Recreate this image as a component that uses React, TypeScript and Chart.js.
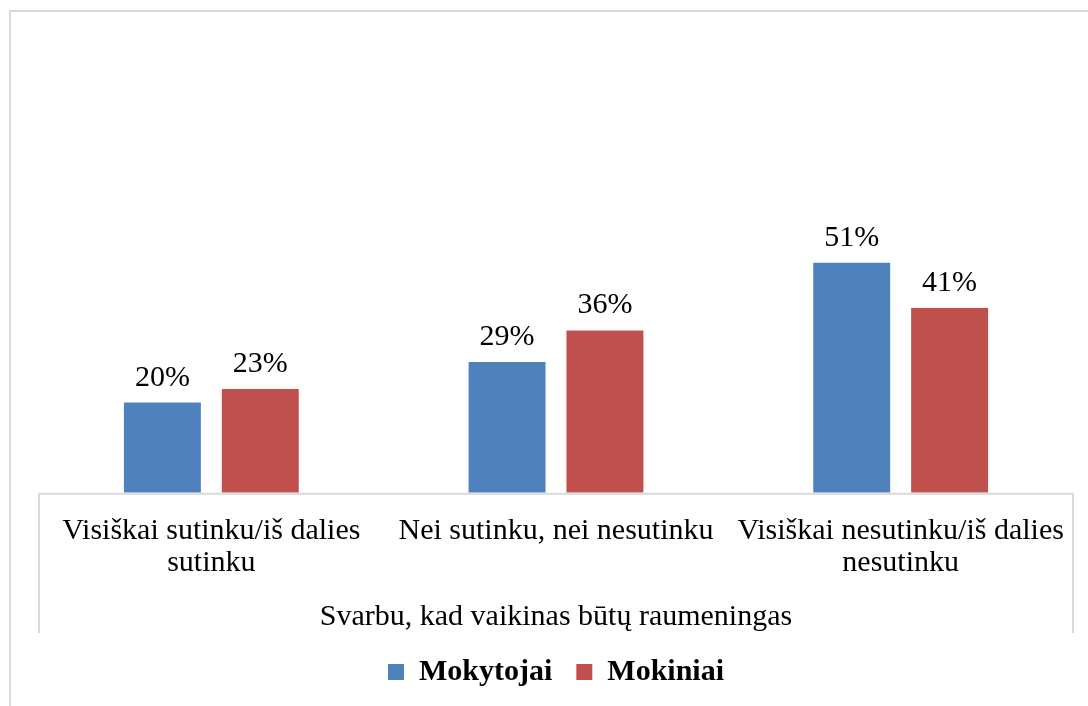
import React, { useEffect, useRef } from "react";
import { Chart, registerables } from "chart.js";

Chart.register(...registerables);

const categories: string[][] = [
  ["Visiškai sutinku/iš dalies", "sutinku"],
  ["Nei sutinku, nei nesutinku"],
  ["Visiškai nesutinku/iš dalies", "nesutinku"],
];
const axisTitle = "Svarbu, kad vaikinas būtų raumeningas";
const seriesNames = ["Mokytojai", "Mokiniai"];
const mokytojai = [20, 29, 51];
const mokiniai = [23, 36, 41];
const colors = ["#4F81BD", "#C0504D"];

const FONT = "'Liberation Serif', 'Times New Roman', serif";

const framePlugin = {
  id: "frame",
  beforeDraw(chart: any) {
    const ctx = chart.ctx;
    ctx.save();
    ctx.strokeStyle = "#d9d9d9";
    ctx.lineWidth = 2;
    ctx.beginPath();
    ctx.moveTo(10, chart.height + 2);
    ctx.lineTo(10, 11);
    ctx.lineTo(chart.width + 2, 11);
    ctx.stroke();
    ctx.restore();
  },
  afterDraw(chart: any) {
    const ctx = chart.ctx;
    const x = chart.scales.x;
    const a = chart.chartArea;
    ctx.save();
    ctx.strokeStyle = "#d9d9d9";
    ctx.lineWidth = 2;
    ctx.beginPath();
    ctx.moveTo(a.left, x.bottom);
    ctx.lineTo(a.left, a.bottom + 1);
    ctx.lineTo(a.right, a.bottom + 1);
    ctx.lineTo(a.right, x.bottom);
    ctx.stroke();
    ctx.restore();
  },
};

const labelPlugin = {
  id: "valueLabels",
  afterDatasetsDraw(chart: any) {
    const ctx = chart.ctx;
    ctx.save();
    ctx.font = `30px ${FONT}`;
    ctx.fillStyle = "#000";
    ctx.textAlign = "center";
    ctx.textBaseline = "alphabetic";
    chart.data.datasets.forEach((ds: any, di: number) => {
      const meta = chart.getDatasetMeta(di);
      meta.data.forEach((el: any, i: number) => {
        ctx.fillText(`${ds.data[i]}%`, el.x, el.y - 17);
      });
    });
    ctx.restore();
  },
};

export default function App() {
  const ref = useRef<HTMLCanvasElement>(null);
  useEffect(() => {
    if (!ref.current) return;
    const chart = new Chart(ref.current, {
      type: "bar",
      data: {
        labels: categories,
        datasets: [
          { label: seriesNames[0], data: mokytojai, backgroundColor: colors[0] },
          { label: seriesNames[1], data: mokiniai, backgroundColor: colors[1] },
        ],
      },
      options: {
        animation: false,
        responsive: false,
        layout: { padding: { left: 39, right: 15, top: 42, bottom: 9 } },
        datasets: {
          bar: { categoryPercentage: 0.568, barPercentage: 0.786 },
        },
        scales: {
          y: { display: false, min: 0, max: 100 },
          x: {
            grid: { display: false },
            border: { display: false },
            ticks: {
              color: "#000",
              font: { family: FONT, size: 30, lineHeight: 1.07 },
              padding: 14,
              maxRotation: 0,
              autoSkip: false,
            },
            title: {
              display: true,
              text: axisTitle,
              color: "#000",
              font: { family: FONT, size: 30, lineHeight: 1.07 },
              padding: { top: 8, bottom: 0 },
            },
          },
        },
        plugins: {
          legend: {
            position: "bottom",
            labels: {
              color: "#000",
              font: { family: FONT, size: 30, weight: "bold" },
              boxWidth: 16,
              boxHeight: 16,
              padding: 24,
            },
          },
          tooltip: { enabled: false },
          title: { display: false },
        },
      },
      plugins: [framePlugin, labelPlugin],
    });
    return () => chart.destroy();
  }, []);
  return (
    <div style={{ position: "fixed", left: 0, top: 0, width: 1088, height: 706, background: "#fff" }}>
      <canvas ref={ref} width={1088} height={706} style={{ display: "block" }} />
    </div>
  );
}
